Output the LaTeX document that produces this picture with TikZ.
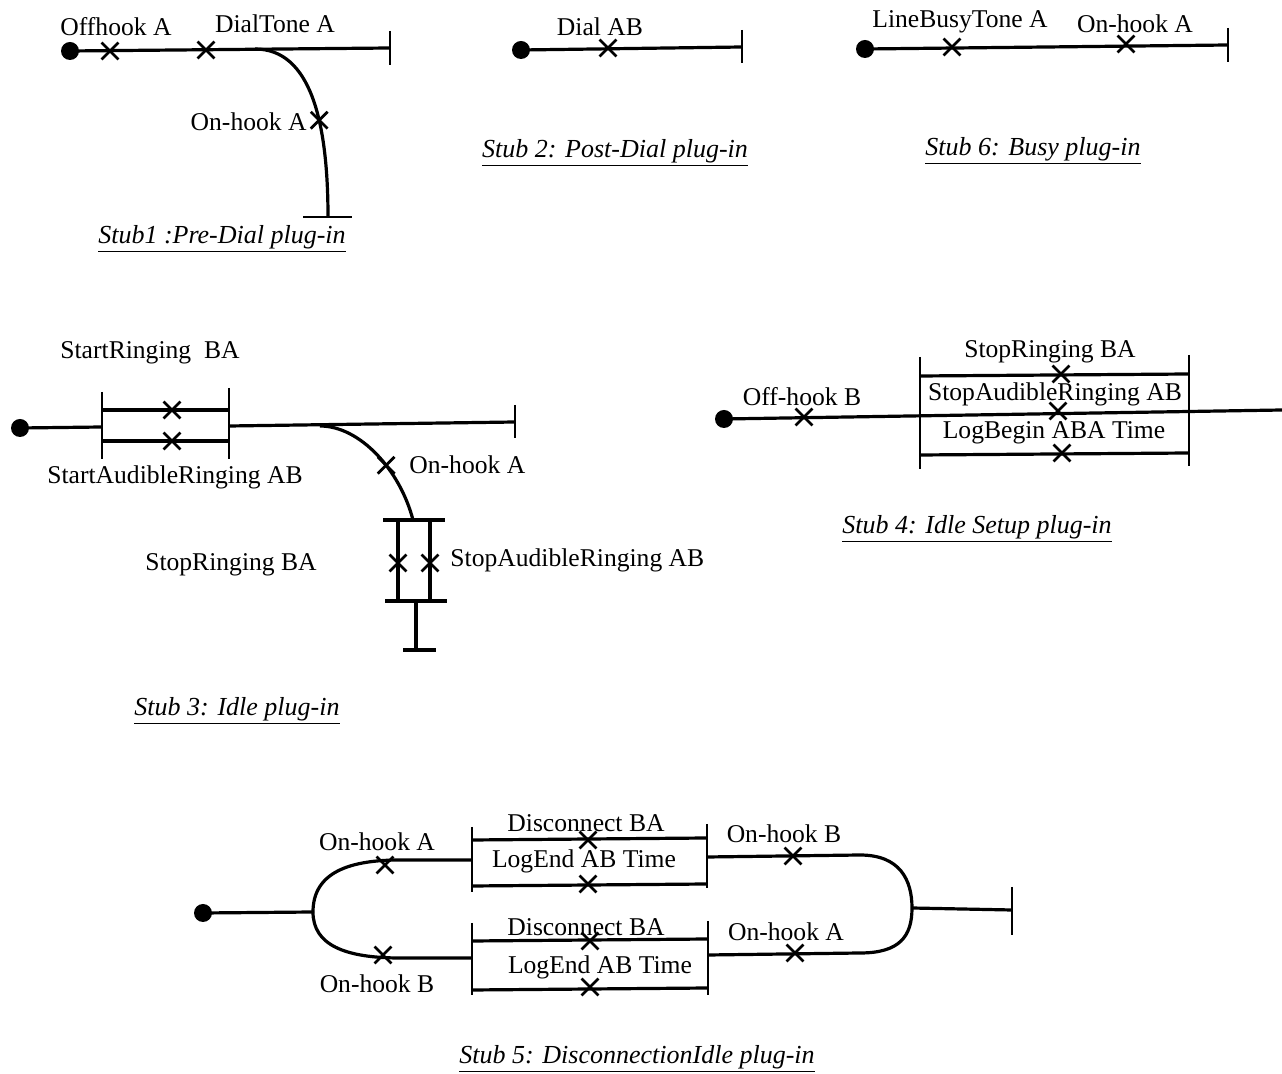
\documentclass[tikz,border=0pt]{standalone}
\usepackage{fontspec}
\setmainfont{Liberation Serif}
\usetikzlibrary{shapes.misc}
\begin{document}
\begin{tikzpicture}[x=0.5pt,y=-0.5pt,
  route/.style={line width=1.6pt},
  bar/.style={line width=1.2pt},
  xmark/.style={cross out,draw,line width=1.4pt,minimum size=7pt,inner sep=0pt},
  startpt/.style={circle,fill,inner sep=0pt,minimum size=9pt},
  lbl/.style={font=\fontsize{12.8}{14}\selectfont,inner sep=0pt},
  stubcaption/.style={font=\fontsize{13}{15}\selectfont\itshape,inner sep=0pt}]
\useasboundingbox (0,0) rectangle (1282,1074);

% ---------- Stub 1: Pre-Dial ----------
\node[startpt] (s1) at (70,51) {};
\coordinate (s1e) at (390,48);
\coordinate (s1b) at (255,49);
\coordinate (s1f) at (328,217);
\draw[route] (s1.center) -- (s1e);
\draw[bar] (390,31) -- (390,65);
\draw[route] (s1b) .. controls (310,49) and (328,120) .. (s1f)
  node[xmark,pos=0.62] (s1x3) {};
\draw[bar] (303,217) -- (352,217);
\node[xmark] (s1x1) at (110,51) {};
\node[xmark] (s1x2) at (206,50) {};
\node[lbl] (l11) at (116,27) {Offhook A};
\node[lbl] (l12) at (275,24) {DialTone A};
\node[lbl,anchor=east] (l13) at (307,122) {On-hook A};
\node[stubcaption] (c1) at (222,239) {\underline{Stub1 :Pre-Dial plug-in}};

% ---------- Stub 2: Post-Dial ----------
\node[startpt] (s2) at (521,50) {};
\coordinate (s2e) at (742,47);
\draw[route] (s2.center) -- (s2e);
\draw[bar] (742,30) -- (742,63);
\node[xmark] (s2x1) at (608,48) {};
\node[lbl] (l21) at (600,27) {Dial AB};
\node[stubcaption] (c2) at (615,153) {\underline{Stub 2: Post-Dial plug-in}};

% ---------- Stub 6: Busy ----------
\node[startpt] (s6) at (865,49) {};
\coordinate (s6e) at (1228,45);
\draw[route] (s6.center) -- (s6e);
\draw[bar] (1228,28) -- (1228,62);
\node[xmark] (s6x1) at (952,47) {};
\node[xmark] (s6x2) at (1126,44) {};
\node[lbl] (l61) at (960,22) {LineBusyTone A};
\node[lbl] (l62) at (1135,24) {On-hook A};
\node[stubcaption] (c6) at (1033,151) {\underline{Stub 6: Busy plug-in}};

% ---------- Stub 3: Idle ----------
\node[startpt] (s3) at (20,428) {};
\coordinate (s3a) at (102,427);
\coordinate (s3c) at (229,426);
\coordinate (s3e) at (515,422);
\coordinate (s3b) at (320,426);
\coordinate (s3f) at (413,520);
\draw[route] (s3.center) -- (s3a);
\draw[bar] (102,392) -- (102,459);
\draw[bar] (229,388) -- (229,459);
\draw[route] (102,410) -- (229,410);
\draw[route] (102,441) -- (229,441);
\node[xmark] (s3x1) at (172,410) {};
\node[xmark] (s3x2) at (172,441) {};
\draw[route] (s3c) -- (s3e);
\draw[bar] (515,405) -- (515,438);
\draw[route] (s3b) .. controls (360,426) and (400,470) .. (s3f)
  node[xmark,pos=0.6] (s3x3) {};
\draw[route] (383,520) -- (445,520);
\draw[route] (398,520) -- (398,601);
\draw[route] (430,520) -- (430,601);
\draw[route] (385,601) -- (447,601);
\node[xmark] (s3x4) at (398,563) {};
\node[xmark] (s3x5) at (430,563) {};
\draw[route] (416,601) -- (416,650);
\draw[route] (403,650) -- (436,650);
\node[lbl] (l31) at (150,353) {StartRinging~ BA};
\node[lbl] (l32) at (175,477) {StartAudibleRinging AB};
\node[lbl,anchor=west] (l33) at (409,465) {On-hook A};
\node[lbl] (l34) at (231,565) {StopRinging BA};
\node[lbl,anchor=west] (l35) at (450,560) {StopAudibleRinging AB};
\node[stubcaption] (c3) at (237,711) {\underline{Stub 3: Idle plug-in}};

% ---------- Stub 4: Idle Setup ----------
\node[startpt] (s4) at (724,419) {};
\coordinate (s4e) at (1282,410);
\draw[route] (s4.center) -- (s4e);
\node[xmark] (s4x1) at (804,417) {};
\draw[bar] (920,357) -- (920,469);
\draw[bar] (1189,355) -- (1189,466);
\draw[route] (920,376) -- (1189,374);
\draw[route] (920,455) -- (1189,453);
\node[xmark] (s4x2) at (1061,374) {};
\node[xmark] (s4x3) at (1058,411) {};
\node[xmark] (s4x4) at (1062,453) {};
\node[lbl] (l41) at (802,397) {Off-hook B};
\node[lbl] (l42) at (1050,352) {StopRinging BA};
\node[lbl] (l43) at (1055,394) {StopAudibleRinging AB};
\node[lbl] (l44) at (1054,433) {LogBegin ABA Time};
\node[stubcaption] (c4) at (977,529) {\underline{Stub 4: Idle Setup plug-in}};

% ---------- Stub 5: DisconnectionIdle ----------
\node[startpt] (s5) at (203,913) {};
\coordinate (s5f) at (313,912);
\coordinate (s5u) at (472,860);
\coordinate (s5d) at (472,958);
\coordinate (s5ur) at (707,857);
\coordinate (s5dr) at (708,955);
\coordinate (s5j) at (912,908);
\coordinate (s5e) at (1012,910);
\draw[route] (s5.center) -- (s5f);
\draw[route] (s5f) .. controls (313,872) and (350,860) .. (400,860) -- (s5u);
\draw[route] (s5f) .. controls (313,945) and (345,958) .. (400,958) -- (s5d);
\node[xmark] (s5x1) at (385,865) {};
\node[xmark] (s5x2) at (383,955) {};
% upper bracket
\draw[bar] (472,827) -- (472,892);
\draw[bar] (707,824) -- (707,888);
\draw[route] (472,840) -- (707,838);
\draw[route] (472,886) -- (707,884);
\node[xmark] (s5x3) at (588,840) {};
\node[xmark] (s5x4) at (588,884) {};
% lower bracket
\draw[bar] (472,923) -- (472,995);
\draw[bar] (708,921) -- (708,995);
\draw[route] (472,941) -- (708,939);
\draw[route] (472,990) -- (708,988);
\node[xmark] (s5x5) at (590,941) {};
\node[xmark] (s5x6) at (590,987) {};
% joining on the right
\draw[route] (s5ur) -- (860,855) .. controls (900,855) and (912,880) .. (s5j)
  .. controls (912,936) and (900,953) .. (860,953) -- (s5dr);
\draw[route] (s5j) -- (s5e);
\draw[bar] (1012,887) -- (1012,935);
\node[xmark] (s5x7) at (793,856) {};
\node[xmark] (s5x8) at (795,953) {};
\node[lbl] (l51) at (377,842) {On-hook A};
\node[lbl] (l52) at (377,984) {On-hook B};
\node[lbl] (l53) at (586,823) {Disconnect BA};
\node[lbl] (l54) at (584,861) {LogEnd AB Time};
\node[lbl] (l55) at (586,927) {Disconnect BA};
\node[lbl] (l56) at (600,967) {LogEnd AB Time};
\node[lbl] (l57) at (784,834) {On-hook B};
\node[lbl] (l58) at (786,932) {On-hook A};
\node[stubcaption] (c5) at (637,1059) {\underline{Stub 5: DisconnectionIdle plug-in}};
\end{tikzpicture}
\end{document}
